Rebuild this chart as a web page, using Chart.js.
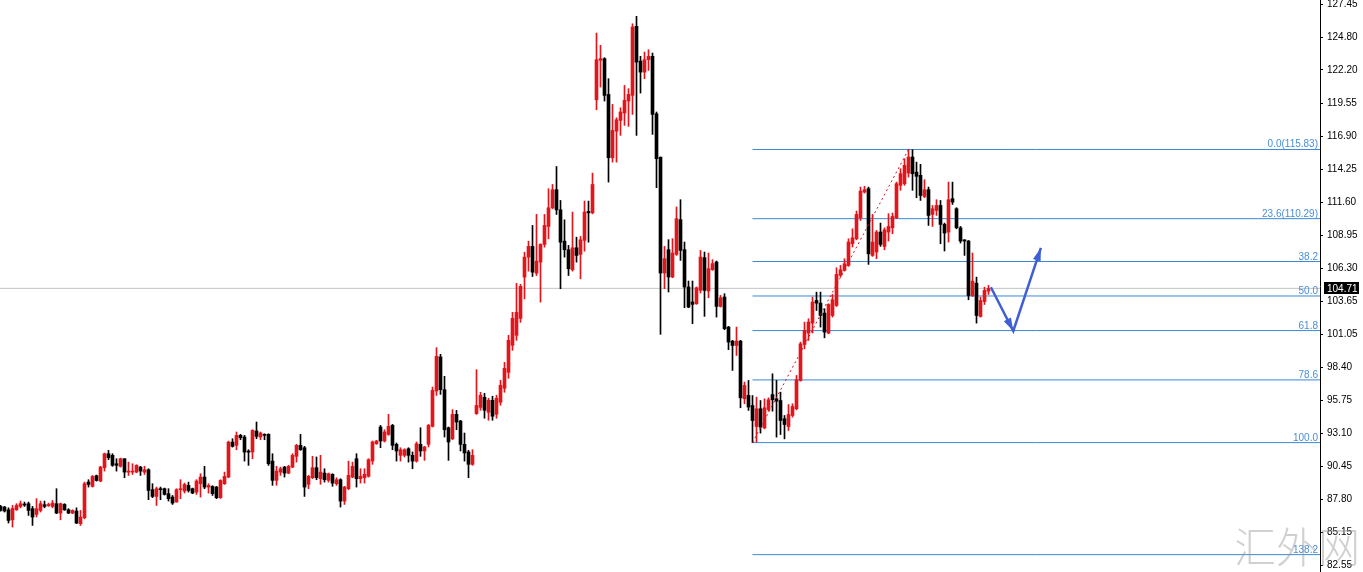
<!DOCTYPE html>
<html>
<head>
<meta charset="utf-8">
<script src="https://cdn.jsdelivr.net/npm/chart.js@4.4.1/dist/chart.umd.min.js"></script>
<style>
    html, body { margin: 0; padding: 0; background: #fff; }
    #wrap { position: relative; width: 1363px; height: 572px; }
</style>
</head>
<body>
<div id="wrap"><canvas id="chart"></canvas></div>
<script>
// Candles, oldest first (one slot = one bar)
const opens = [
    87.25, 87.20, 86.98, 86.18, 86.98, 87.25, 87.44, 87.47, 87.07, 86.61, 86.93, 87.39, 87.31, 87.25, 87.47, 86.72,
    87.41, 86.98, 86.72, 86.88, 85.87, 86.34, 89.20, 88.85, 89.71, 89.28, 90.35, 91.47, 91.34, 90.67, 90.46, 91.07,
    90.00, 90.00, 90.00, 90.40, 90.00, 90.19, 88.59, 88.05, 88.67, 88.67, 88.27, 88.00, 87.60, 88.59, 88.48, 88.93,
    88.67, 88.40, 89.07, 89.60, 88.80, 88.85, 88.80, 87.95, 89.07, 89.60, 92.40, 92.14, 92.94, 92.81, 91.68, 91.61,
    93.29, 92.81, 93.02, 93.02, 90.88, 89.34, 90.00, 90.40, 89.92, 90.40, 91.26, 92.14, 91.95, 89.02, 89.55, 90.35,
    89.47, 89.92, 89.34, 89.82, 89.07, 89.39, 87.68, 88.67, 89.60, 91.07, 89.47, 89.55, 89.66, 90.89, 92.27, 93.61,
    92.49, 93.02, 93.74, 92.22, 91.34, 91.34, 91.87, 91.34, 90.88, 92.22, 91.69, 92.22, 93.66, 96.49, 99.22, 96.60,
    93.55, 92.67, 94.62, 94.09, 92.22, 91.61, 90.62, 94.68, 95.18, 95.99, 94.79, 95.75, 94.63, 95.59, 96.71, 97.99,
    100.15, 100.95, 102.31, 105.61, 107.21, 108.07, 105.93, 106.81, 108.23, 109.67, 111.16, 112.61, 111.00, 108.49, 107.80, 106.20,
    107.96, 107.43, 108.55, 110.87, 110.76, 119.81, 122.97, 123.10, 120.24, 115.17, 117.30, 118.16, 118.75, 119.71, 120.16, 125.69,
    122.91, 122.03, 123.02, 123.29, 118.69, 115.22, 105.94, 107.81, 105.62, 107.43, 110.21, 107.81, 104.82, 103.62, 103.48, 104.55,
    107.17, 104.50, 106.21, 106.82, 103.27, 104.02, 101.61, 100.49, 100.14, 100.49, 95.87, 96.14, 95.33, 93.65, 95.07, 93.54,
    95.01, 96.21, 95.87, 95.73, 94.27, 93.65, 94.53, 95.07, 97.34, 100.22, 101.13, 101.93, 103.74, 103.53, 102.73, 101.13,
    102.54, 103.34, 105.75, 106.15, 106.55, 108.28, 108.68, 110.37, 112.42, 112.69, 107.35, 107.62, 109.22, 108.07, 109.22, 109.56,
    110.37, 112.96, 113.09, 113.94, 115.23, 114.02, 113.76, 112.07, 112.61, 110.63, 110.95, 111.35, 109.83, 109.22, 111.89, 111.09,
    109.56, 108.60, 108.50, 104.14, 105.13, 102.46, 103.66, 104.49
];
const highs = [
    87.33, 87.25, 87.14, 87.33, 87.47, 87.68, 87.60, 87.60, 87.25, 87.87, 87.68, 87.68, 87.52, 87.73, 88.67, 87.52,
    87.47, 87.07, 86.98, 87.14, 86.93, 89.20, 89.39, 89.73, 89.76, 90.46, 91.52, 91.74, 91.47, 91.07, 91.12, 91.07,
    90.80, 90.67, 90.59, 90.46, 90.46, 90.27, 89.07, 88.80, 88.80, 88.72, 88.67, 88.13, 88.67, 89.39, 89.12, 89.20,
    88.72, 89.39, 89.87, 90.46, 89.07, 88.91, 88.85, 89.39, 90.00, 92.48, 92.67, 93.21, 93.02, 92.94, 91.79, 93.39,
    94.01, 93.21, 93.07, 93.07, 91.47, 90.46, 90.40, 90.46, 90.54, 91.47, 92.22, 93.02, 92.06, 89.74, 91.26, 91.21,
    91.34, 90.27, 89.92, 89.87, 89.55, 89.47, 88.86, 90.88, 90.80, 91.47, 90.27, 90.27, 91.07, 92.49, 92.54, 93.74,
    93.39, 94.62, 93.82, 92.33, 91.95, 91.87, 91.95, 91.61, 92.41, 93.55, 92.06, 93.82, 96.81, 99.96, 99.43, 97.67,
    93.61, 95.00, 94.94, 94.14, 93.13, 91.74, 91.79, 98.20, 96.39, 96.31, 95.91, 96.07, 96.15, 97.35, 98.79, 100.95,
    102.79, 105.11, 105.03, 107.61, 108.49, 109.75, 110.63, 108.28, 110.63, 112.69, 113.03, 114.47, 111.75, 110.20, 108.15, 110.82,
    108.81, 108.87, 111.70, 111.70, 113.94, 125.15, 124.17, 123.18, 121.50, 119.44, 118.37, 119.17, 120.96, 120.70, 125.90, 126.49,
    123.29, 123.63, 123.82, 123.55, 118.83, 115.22, 108.07, 108.61, 108.69, 111.23, 111.81, 108.42, 105.30, 105.30, 104.82, 107.75,
    107.62, 107.54, 107.01, 106.90, 104.15, 104.28, 101.67, 100.55, 101.61, 100.55, 97.21, 97.34, 96.13, 96.00, 95.73, 95.87,
    95.95, 97.87, 97.34, 96.40, 94.53, 95.41, 95.47, 97.74, 100.41, 102.01, 102.28, 104.01, 104.41, 104.41, 103.08, 103.48,
    104.22, 106.36, 106.55, 107.08, 108.68, 109.48, 110.90, 112.82, 112.88, 112.82, 110.63, 109.35, 109.94, 109.56, 110.69, 110.74,
    113.22, 114.29, 115.09, 115.83, 115.81, 114.82, 114.64, 113.41, 112.82, 111.35, 111.81, 111.75, 109.94, 113.22, 113.22, 111.17,
    109.67, 108.60, 108.55, 107.54, 105.61, 104.01, 104.81, 104.95
];
const lows = [
    86.88, 86.80, 85.92, 85.60, 86.93, 87.14, 87.25, 86.53, 85.73, 86.40, 86.80, 87.14, 87.25, 87.14, 86.67, 86.18,
    86.93, 86.67, 86.67, 85.87, 85.73, 86.26, 88.80, 88.80, 89.28, 89.23, 90.08, 90.99, 90.46, 90.08, 90.40, 89.55,
    89.73, 89.81, 89.95, 89.73, 89.81, 87.79, 87.95, 87.33, 87.79, 88.16, 87.68, 87.41, 87.60, 87.87, 88.32, 88.40,
    88.27, 88.21, 88.00, 88.67, 88.32, 88.13, 87.87, 87.89, 89.01, 89.55, 92.00, 91.79, 92.59, 90.88, 90.54, 91.07,
    92.67, 92.59, 92.59, 90.54, 88.94, 88.94, 89.74, 89.60, 89.87, 90.35, 90.80, 91.74, 88.05, 88.67, 89.47, 89.39,
    89.02, 89.20, 89.20, 88.86, 88.94, 87.20, 87.41, 88.59, 89.55, 88.80, 89.12, 89.12, 89.60, 90.62, 92.22, 91.95,
    92.41, 92.94, 91.79, 90.88, 90.88, 91.21, 90.80, 90.27, 90.80, 91.26, 90.94, 92.01, 93.61, 96.14, 96.22, 92.81,
    90.94, 92.59, 93.39, 91.69, 90.88, 89.55, 90.54, 94.62, 94.95, 94.31, 94.15, 94.15, 94.31, 95.35, 96.39, 97.51,
    99.75, 100.55, 101.99, 103.87, 106.09, 105.66, 105.74, 103.61, 108.01, 108.68, 111.08, 110.63, 104.68, 107.21, 105.74, 106.09,
    106.81, 105.48, 107.69, 108.41, 110.68, 119.01, 120.83, 119.71, 113.22, 114.82, 114.82, 116.96, 117.76, 117.68, 118.64, 116.96,
    120.35, 121.50, 122.16, 117.04, 112.77, 101.03, 104.68, 104.42, 105.56, 107.35, 106.95, 103.16, 103.16, 101.88, 103.43, 104.34,
    102.47, 103.96, 106.15, 102.41, 103.21, 101.40, 99.80, 98.14, 99.34, 95.15, 95.47, 94.94, 92.36, 92.40, 93.12, 93.46,
    94.88, 94.88, 92.80, 93.01, 92.66, 93.33, 94.40, 94.99, 97.28, 99.87, 100.54, 101.13, 102.94, 101.61, 100.75, 101.07,
    102.41, 103.26, 105.61, 106.09, 106.47, 108.02, 108.60, 110.15, 112.34, 106.63, 107.27, 107.08, 108.07, 107.80, 108.50, 109.08,
    110.29, 112.56, 112.96, 113.62, 112.56, 111.97, 111.75, 111.97, 109.75, 109.67, 110.55, 108.28, 107.70, 108.42, 111.43, 109.48,
    108.34, 107.35, 103.80, 104.06, 101.93, 102.41, 103.42, 104.22
];
const closes = [
    86.93, 86.88, 86.13, 87.09, 87.33, 87.47, 87.36, 86.93, 86.40, 87.07, 87.47, 87.25, 87.41, 87.52, 86.72, 87.47,
    86.98, 86.72, 86.93, 85.92, 86.40, 89.07, 89.01, 89.65, 89.33, 90.40, 91.47, 91.15, 90.54, 90.54, 91.07, 90.00,
    90.08, 90.08, 90.54, 90.08, 90.19, 88.53, 88.05, 88.67, 88.59, 88.21, 87.87, 87.52, 88.59, 88.67, 89.01, 88.53,
    88.32, 89.28, 89.60, 88.80, 88.93, 88.27, 87.95, 89.33, 89.65, 92.40, 92.06, 92.94, 92.75, 91.60, 91.60, 93.34,
    92.86, 93.13, 92.94, 90.67, 89.34, 90.08, 90.27, 89.92, 90.46, 91.34, 92.14, 91.79, 88.80, 89.66, 90.35, 89.55,
    90.00, 89.39, 89.87, 89.12, 89.39, 87.68, 88.80, 89.74, 90.46, 89.47, 89.66, 89.82, 90.99, 92.41, 92.49, 92.49,
    93.21, 93.66, 92.14, 91.69, 91.79, 91.79, 91.34, 90.88, 92.27, 91.69, 92.01, 93.74, 96.54, 99.27, 96.60, 93.39,
    92.41, 94.62, 94.01, 92.22, 91.53, 90.62, 91.34, 95.34, 96.15, 94.95, 95.75, 94.47, 95.91, 96.95, 98.31, 100.55,
    102.31, 102.79, 104.87, 107.21, 108.07, 106.01, 106.89, 108.23, 109.75, 111.16, 112.61, 111.00, 108.41, 107.80, 106.28, 107.96,
    107.35, 108.60, 110.82, 110.76, 113.03, 123.02, 123.10, 120.16, 115.17, 117.36, 118.21, 118.83, 119.76, 120.24, 125.64, 122.83,
    122.03, 123.02, 123.29, 118.64, 115.09, 105.94, 107.09, 105.62, 107.54, 110.29, 107.75, 104.82, 103.21, 103.43, 104.76, 107.22,
    104.55, 106.29, 106.69, 103.27, 103.96, 101.48, 100.41, 100.14, 100.49, 95.95, 96.94, 95.21, 94.13, 95.07, 93.60, 95.15,
    95.79, 95.79, 95.68, 94.13, 93.81, 94.61, 95.25, 97.39, 100.27, 101.34, 102.01, 103.61, 103.53, 102.54, 101.21, 103.42,
    103.80, 105.83, 106.20, 106.68, 108.42, 108.76, 110.63, 112.50, 112.61, 107.48, 108.42, 109.22, 108.23, 109.40, 109.67, 110.47,
    113.09, 113.89, 114.56, 115.23, 113.89, 113.68, 112.15, 112.61, 110.55, 111.09, 111.35, 109.83, 109.14, 111.81, 111.62, 109.56,
    108.50, 108.50, 104.14, 105.29, 102.54, 103.74, 104.55, 104.71
];

// Axis labels on the right
const yTicks = ['82.55', '85.15', '87.80', '90.45', '93.10', '95.75', '98.40', '101.05', '103.65',
                '106.30', '108.95', '111.60', '114.25', '116.90', '119.55', '122.20', '124.80', '127.45'];

// Fibonacci retracement (swing low bar -> swing high bar)
const fibLabels = ['0.0(115.83)', '23.6(110.29)', '38.2', '50.0', '61.8', '78.6', '100.0', '138.2'];
const fibPrices = [115.83, 110.29, 106.86, 104.10, 101.33, 97.38, 92.36, 83.39];
const fibStartBar = 188;
const swingLow = { bar: 188, price: 92.36 };
const swingHigh = { bar: 227, price: 115.83 };

const lastPrice = 104.71;

// Projected path (blue arrows)
const pathBars = [247.6, 253.2, 260.1];
const pathPrices = [104.80, 101.30, 107.95];

const SLOTS = 330;
const X_MIN = -0.125, X_MAX = SLOTS - 0.125;
const UP = '#e3141b', DOWN = '#000000';
const FIB_COLOR = '#3a88d6', FIB_TEXT = '#4a8ed8', ARROW = '#3f5fd2';
const AXIS_FONT = "'Liberation Sans Narrow', 'Liberation Sans', sans-serif";

const bodies = opens.map((o, i) => ({ x: i, y: [o, closes[i]] }));
const wicks = lows.map((l, i) => ({ x: i, y: [l, highs[i]] }));
const candleColors = opens.map((o, i) => closes[i] >= o ? UP : DOWN);

const fibSets = fibPrices.map(p => ({
    type: 'line',
    data: [{ x: fibStartBar, y: p }, { x: X_MAX, y: p }],
    borderColor: FIB_COLOR,
    borderWidth: 1,
    pointRadius: 0,
    order: 5
}));

// Extra drawing: fib labels, last price tag, arrow heads, watermark
const overlay = {
    id: 'overlay',
    afterDraw: (chart) => {
        const { ctx, chartArea, scales } = chart;
        const x = scales.x, y = scales.y;
        ctx.save();

        ctx.font = '10px ' + AXIS_FONT;
        ctx.fillStyle = FIB_TEXT;
        ctx.textAlign = 'right';
        ctx.textBaseline = 'alphabetic';
        fibPrices.forEach((p, i) => {
            ctx.fillText(fibLabels[i], chartArea.right - 2, Math.round(y.getPixelForValue(p)) - 2);
        });

        // arrow heads
        const pts = pathBars.map((b, i) => [x.getPixelForValue(b), y.getPixelForValue(pathPrices[i])]);
        ctx.fillStyle = ARROW;
        for (let i = 1; i < pts.length; i++) {
            const [x1, y1] = pts[i - 1];
            const [x2, y2] = pts[i];
            const a = Math.atan2(y2 - y1, x2 - x1);
            const len = 13, half = 4;
            ctx.beginPath();
            ctx.moveTo(x2, y2);
            ctx.lineTo(x2 - len * Math.cos(a) + half * Math.sin(a), y2 - len * Math.sin(a) - half * Math.cos(a));
            ctx.lineTo(x2 - len * Math.cos(a) - half * Math.sin(a), y2 - len * Math.sin(a) + half * Math.cos(a));
            ctx.closePath();
            ctx.fill();
        }

        // last price tag on the axis
        const py = Math.round(y.getPixelForValue(lastPrice));
        ctx.fillStyle = '#000';
        ctx.fillRect(chartArea.right + 4, py - 6, 35, 12);
        ctx.fillStyle = '#fff';
        ctx.textAlign = 'left';
        ctx.textBaseline = 'middle';
        ctx.font = '10px ' + AXIS_FONT;
        ctx.fillText(lastPrice.toFixed(2), chartArea.right + 7, py + 1);

        // watermark
        ctx.font = "300 42px 'Noto Sans CJK SC', sans-serif";
        ctx.fillStyle = 'rgba(150,150,150,0.45)';
        ctx.textAlign = 'left';
        ctx.textBaseline = 'alphabetic';
        ctx.fillText('汇外网', 1234, 563);

        ctx.restore();
    }
};

new Chart(document.getElementById('chart'), {
    type: 'bar',
    plugins: [overlay],
    data: {
        datasets: [
            {
                data: bodies,
                backgroundColor: candleColors,
                borderWidth: 0,
                barThickness: 3,
                minBarLength: 1,
                grouped: false,
                order: 1
            },
            {
                data: wicks,
                backgroundColor: candleColors,
                borderWidth: 0,
                barThickness: 1,
                grouped: false,
                order: 2
            },
            {
                type: 'line',
                data: [{ x: X_MIN, y: lastPrice }, { x: X_MAX, y: lastPrice }],
                borderColor: '#c3c3c3',
                borderWidth: 1,
                pointRadius: 0,
                order: 6
            },
            ...fibSets,
            {
                type: 'line',
                data: [{ x: swingLow.bar, y: swingLow.price }, { x: swingHigh.bar, y: swingHigh.price }],
                borderColor: '#d0141b',
                borderWidth: 1,
                borderDash: [2, 3],
                pointRadius: 0,
                order: 0
            },
            {
                type: 'line',
                data: pathBars.map((b, i) => ({ x: b, y: pathPrices[i] })),
                borderColor: ARROW,
                borderWidth: 2.5,
                pointRadius: 0,
                tension: 0,
                order: 0
            }
        ]
    },
    options: {
        responsive: true,
        maintainAspectRatio: false,
        animation: false,
        layout: { padding: 0 },
        plugins: {
            legend: { display: false },
            tooltip: { enabled: false }
        },
        scales: {
            x: {
                type: 'linear',
                min: X_MIN,
                max: X_MAX,
                offset: false,
                display: false
            },
            y: {
                position: 'right',
                min: 82.00,
                max: 127.80,
                afterBuildTicks: (s) => { s.ticks = yTicks.map(t => ({ value: parseFloat(t) })); },
                afterFit: (s) => { s.width = 43; s.paddingTop = 0; s.paddingBottom = 0; },
                grid: { drawOnChartArea: false, tickLength: 3, color: '#000' },
                border: { color: '#000', width: 1 },
                ticks: {
                    autoSkip: false,
                    padding: 4,
                    color: '#000',
                    font: { family: AXIS_FONT, size: 10 },
                    callback: (v) => Number(v).toFixed(2)
                }
            }
        }
    }
});
</script>
</body>
</html>
